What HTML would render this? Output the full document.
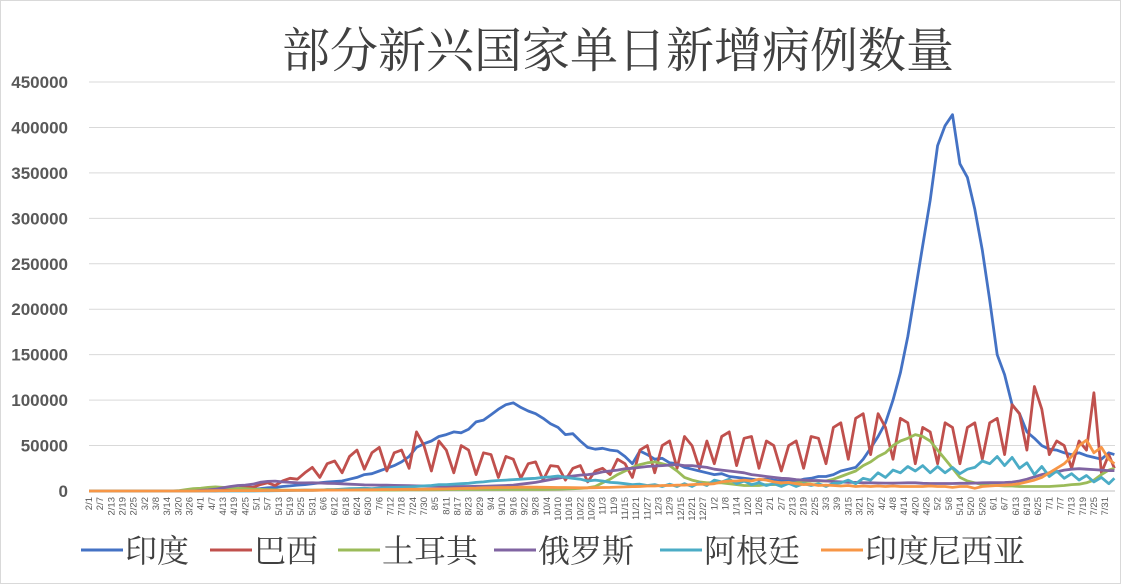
<!DOCTYPE html>
<html><head><meta charset="utf-8">
<style>
html,body{margin:0;padding:0;background:#fff;}
#wrap{position:relative;width:1121px;height:584px;overflow:hidden;box-sizing:border-box;border:1px solid #d9d9d9;}
svg{position:absolute;left:0;top:0;}
</style></head>
<body>
<div id="wrap">
<svg id="chart" width="1121" height="584">
<text x="617" y="66" text-anchor="middle" font-family="'Liberation Serif','Noto Serif CJK SC',serif" font-size="48" fill="#404040">部分新兴国家单日新增病例数量</text>
<g id="grid"></g><g id="yticks"></g><g id="xticks"></g><g id="series"></g><g id="legend"></g>
</svg>
</div>
<script>
const STEP = 4;
const yTicks = [0,50000,100000,150000,200000,250000,300000,350000,400000,450000];
const seriesNames = ["印度","巴西","土耳其","俄罗斯","阿根廷","印度尼西亚"];
const seriesColors = ["#4472c4","#c0504d","#9bbb59","#8064a2","#4bacc6","#f79646"];
const indiaVals = [0,0,0,0,0,0,0,0,0,0,0,0,0,0,0,
400,600,900,1000,1500,1600,1800,2000,2500,3500,4000,5000,5600,6500,7000,8000,9000,9900,10500,11000,13000,15000,18000,19000,22000,25000,28000,32000,38000,48000,52000,55000,60000,62000,65000,64000,68000,76000,78000,84000,90000,95000,97000,92000,88000,85000,80000,74000,70000,62000,63000,55000,48000,46000,47000,45000,44000,38000,30000,44000,40000,35000,36000,31000,30000,26000,24000,22000,20000,18000,19000,16000,15000,14000,13000,12000,13000,12000,11000,12000,11000,13000,14000,16000,16000,18000,22000,24000,26000,35000,47000,60000,75000,100000,130000,170000,220000,270000,320000,380000,402000,414000,360000,345000,310000,265000,210000,150000,128000,95000,85000,65000,58000,50000,46000,45000,42000,40000,42000,39000,37000,35000,42000,40000];
const brazilVals = [0,0,0,0,0,0,0,0,0,0,0,0,0,0,0,0,0,0,
1000,2000,3000,5000,4000,7000,9000,6000,11000,14000,13000,20000,26000,15000,30000,33000,20000,38000,45000,24000,42000,48000,22000,42000,45000,25000,65000,50000,22000,55000,45000,20000,50000,45000,18000,42000,40000,15000,38000,35000,14000,30000,32000,12000,28000,27000,12000,25000,28000,10000,22000,25000,18000,35000,30000,15000,45000,50000,20000,50000,55000,25000,60000,50000,25000,55000,30000,60000,65000,28000,58000,60000,25000,55000,50000,22000,50000,55000,25000,60000,58000,30000,70000,75000,35000,80000,85000,40000,85000,70000,35000,80000,75000,30000,70000,65000,30000,75000,70000,30000,70000,75000,35000,75000,80000,40000,95000,85000,45000,115000,90000,40000,55000,50000,25000,55000,45000,108000,20000,40000,25000];
const turkeyVals = [0,0,0,0,0,0,0,0,0,0,0,0,300,1500,2500,3000,4000,4500,4000,3500,3000,2500,2000,1800,1500,1200,1000,900,1000,1000,1000,1000,1500,1500,1300,1200,1100,1000,1000,1000,1000,1000,1100,1200,1200,1200,1300,1400,1500,1600,1700,1700,1700,1700,1600,1600,1600,1600,1600,1600,1700,1700,1800,2000,2200,2500,3000,3500,5000,9000,13000,18000,22000,26000,29000,31000,32000,30000,28000,22000,15000,12000,10000,9000,9000,9000,8000,7000,6000,6000,6000,7000,7000,8000,8000,9000,10000,11000,11000,11000,13000,16000,19000,22000,28000,32000,38000,42000,50000,55000,58000,62000,60000,55000,45000,35000,25000,15000,11000,9000,7000,6000,6000,5500,5500,5000,5000,5000,5000,5000,5500,6000,7000,7500,9000,12000,18000,23000,25000];
const russiaVals = [0,0,0,0,0,0,0,0,0,0,0,0,0,0,0,700,1200,2000,3500,5000,6000,6500,7500,9600,10600,10900,10000,9500,9000,8900,9000,8800,8500,8200,7900,7500,7100,6700,6600,6500,6400,6200,6000,5800,5600,5500,5300,5100,4900,4800,4900,5000,5200,5200,5500,5700,6000,6500,7500,8500,9500,11000,12500,14000,15500,16500,17500,18000,19000,21000,22000,23000,24500,25000,26000,27000,27500,28000,28500,29000,28000,28000,27000,26000,24000,23000,22000,21000,20000,18000,17000,16000,15000,14000,13500,12500,12000,11500,11500,11000,10500,10000,9500,9500,9000,9000,8800,8700,8700,8800,9000,9000,8500,8300,8200,8200,8300,8500,8500,8700,9000,9100,9200,9300,9800,11000,13000,15500,18000,20000,21000,23000,24000,24500,24000,23500,23000,22500,22500];
const argentinaVals = [0,0,0,0,0,0,0,0,0,0,0,0,0,0,0,0,0,0,0,0,0,0,0,200,250,300,400,500,700,900,800,1000,1300,1500,2000,2500,2800,3000,2600,3300,3600,4000,4200,4500,5000,5600,6000,7000,7000,7500,8000,8500,9500,10000,11000,11500,12000,12500,13000,13500,14000,15000,15500,16500,15000,14000,13000,11000,12000,11000,9500,9000,8000,7000,7500,6000,7000,5000,7500,5000,8000,5000,9000,6000,12000,10000,13000,8000,11000,7000,9000,6000,8000,5000,8500,5000,8000,6000,8000,5000,8500,9000,12000,8000,14000,12000,20000,15000,23000,20000,27000,22000,28000,20000,27000,20000,26000,19000,24000,26000,33000,30000,38000,28000,37000,25000,31000,18000,27000,16000,22000,14000,19000,12000,17000,10000,15000,8000,14000];
const indonesiaVals = [0,0,0,0,0,0,0,0,0,0,0,0,0,0,0,150,250,300,350,400,400,400,450,450,500,550,600,650,700,800,800,900,1000,1000,1100,1100,1200,1300,1300,1500,1600,1700,1800,1900,1900,2000,2100,2200,2300,2500,2800,3000,3100,3500,3600,3800,3900,4000,4200,4300,4200,4100,4000,3900,3800,3700,3500,3500,3600,3800,4000,4300,4500,4800,5000,5500,5500,6000,6000,6500,6500,7000,7500,7500,8000,10000,11000,11000,12000,11000,13000,12000,10000,9000,9500,8000,7000,7500,6000,6500,6000,5500,6000,5000,5500,5000,5500,5000,5500,5000,5000,5000,5000,5500,5000,5000,4000,5000,5000,3000,5000,5500,6000,6500,7000,8000,10000,12000,15000,20000,25000,30000,38000,50000,56000,42000,48000,35000,30000];
const allSeries = [indiaVals,brazilVals,turkeyVals,russiaVals,argentinaVals,indonesiaVals];

const NS="http://www.w3.org/2000/svg";
const X0=88, DAYPX=1.861, Y0=490, YPX=409/450000;
const xScale=d=>X0+d*DAYPX;
const yScale=v=>Y0-v*YPX;
function mk(tag,attrs,parent){const e=document.createElementNS(NS,tag);for(const k in attrs)e.setAttribute(k,attrs[k]);parent.appendChild(e);return e;}

const grid=document.getElementById('grid'), yt=document.getElementById('yticks');
yTicks.forEach(v=>{
  const l=mk('line',{x1:X0,x2:1114,y1:yScale(v),y2:yScale(v),stroke:v===0?'#bfbfbf':'#d9d9d9','stroke-width':1},grid);
  
  
  const t=mk('text',{x:67,y:yScale(v)+6,'text-anchor':'end','font-family':'Liberation Sans, sans-serif','font-size':17,'font-weight':'bold',fill:'#595959'},yt);
  t.textContent=String(v);
  
  
});

const xt=document.getElementById('xticks');
const start=new Date(2020,1,1);
for(let d=0; d<=546; d+=6){
  const dt=new Date(start.getTime()+d*86400000);
  const lbl=(dt.getMonth()+1)+'/'+dt.getDate();
  const x=xScale(d)+3;
  const t=mk('text',{x:x,y:496,'text-anchor':'end','font-family':'Liberation Sans, sans-serif','font-size':9.5,fill:'#595959',transform:`rotate(-90 ${x} 496)`},xt);
  t.textContent=lbl;
  
  
}

const sg=document.getElementById('series');
allSeries.forEach((vals,i)=>{
  const pts=vals.map((v,j)=>xScale(Math.min(j*STEP,551)).toFixed(1)+','+yScale(v).toFixed(1)).join(' ');
  const p=mk('polyline',{points:pts,fill:'none',stroke:seriesColors[i],'stroke-width':2.8,'stroke-linejoin':'round'},sg);
  
  
});

const lg=document.getElementById('legend');
const lx=[80,209,337,493,659,820];
seriesNames.forEach((n,i)=>{
  const g=mk('g',{},lg);
  
  
  mk('line',{x1:lx[i],x2:lx[i]+42,y1:549,y2:549,stroke:seriesColors[i],'stroke-width':3},g);
  const t=mk('text',{x:lx[i]+44,y:561,'font-family':"'Liberation Serif','Noto Serif CJK SC',serif",'font-size':32,fill:'#404040'},g);
  t.textContent=n;
});
</script>
</body></html>
